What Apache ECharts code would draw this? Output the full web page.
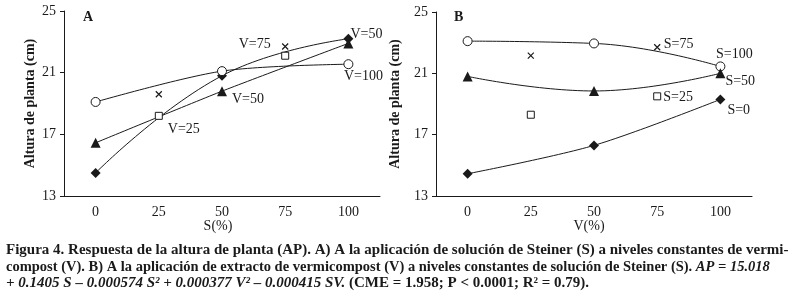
<!DOCTYPE html>
<html>
<head>
<meta charset="utf-8">
<script src="https://cdn.jsdelivr.net/npm/echarts@6/dist/echarts.min.js"></script>
<style>
  html, body { margin: 0; padding: 0; background: #fff; }
  #chart { width: 794px; height: 308px; }
</style>
</head>
<body>
<div id="chart"></div>
<script>
// niveles (%) en el eje x
const levels = ['0', '25', '50', '75', '100'];
const yTicks = [13, 17, 21, 25];

// A) Altura vs S a niveles constantes de V
const aDiamond = [14.5, null, 20.8, null, 23.2];
const aTriangle = [16.45, null, 19.8, null, 22.9];
const aCircle = [19.1, null, 21.1, null, 21.55];
const aSquare = [null, 18.2, null, 22.1, null];
const aCross = [null, 19.6, null, 22.7, null];

// B) Altura vs V a niveles constantes de S
const bCircle = [23.1, null, 22.95, null, 21.45];
const bTriangle = [20.8, null, 19.85, null, 21.0];
const bDiamond = [14.45, null, 16.3, null, 19.3];
const bSquare = [null, 18.3, null, 19.5, null];
const bCross = [null, 22.15, null, 22.7, null];

const serif = '"Liberation Serif", "DejaVu Serif", serif';
const ink = '#1a1a1a';
const crossPath = 'path://M0,0L10,10M10,0L0,10';

// pone una etiqueta solo en un punto
function withLabel(arr, idx, label) {
  return arr.map((v, i) => {
    if (i !== idx || v == null) return v;
    return { value: v, label: Object.assign({ show: true }, label) };
  });
}

function xAxis(gridIndex, name, pad) {
  return {
    type: 'category', gridIndex: gridIndex, data: levels, boundaryGap: true,
    name: name, nameLocation: 'middle', nameGap: 23, nameMoveOverlap: false,
    nameTextStyle: { fontFamily: serif, fontSize: 14, color: ink, padding: pad },
    axisLine: { lineStyle: { color: ink, width: 1 } },
    axisTick: { inside: true, length: 4, lineStyle: { color: ink } },
    axisLabel: { fontFamily: serif, fontSize: 14, color: ink, margin: 9 },
    splitLine: { show: false }
  };
}

function yAxis(gridIndex, gap) {
  return {
    type: 'value', gridIndex: gridIndex, min: 13, max: 25, interval: 4,
    name: 'Altura de planta (cm)', nameLocation: 'middle', nameGap: gap, nameMoveOverlap: false,
    nameTextStyle: { fontFamily: serif, fontSize: 14, fontWeight: 'bold', color: ink },
    axisLine: { show: true, lineStyle: { color: ink, width: 1 } },
    axisTick: { show: true, length: 4, lineStyle: { color: ink } },
    axisLabel: { fontFamily: serif, fontSize: 14, color: ink, margin: 8,
      formatter: v => yTicks.indexOf(v) >= 0 ? String(v) : '' },
    splitLine: { show: false }
  };
}

const lblBase = { fontFamily: serif, fontSize: 14, color: ink };

function lineSeries(ax, data, symbol, size, hollow, smooth) {
  return {
    type: 'line', xAxisIndex: ax, yAxisIndex: ax, data: data,
    symbol: symbol, symbolSize: size, showAllSymbol: true, connectNulls: true,
    smooth: smooth, animation: false,
    lineStyle: { color: ink, width: 1 },
    itemStyle: hollow ? { color: '#fff', borderColor: ink, borderWidth: 1 } : { color: ink },
    label: Object.assign({ show: false }, lblBase)
  };
}

function pointSeries(ax, data, symbol, size, cross) {
  return {
    type: 'line', xAxisIndex: ax, yAxisIndex: ax, data: data,
    symbol: symbol, symbolSize: size, showAllSymbol: true, connectNulls: false,
    animation: false,
    lineStyle: { width: 0, opacity: 0 },
    itemStyle: cross ? { color: 'none', borderColor: ink, borderWidth: 1.2 }
                     : { color: '#fff', borderColor: ink, borderWidth: 1 },
    label: Object.assign({ show: false }, lblBase)
  };
}

const chart = echarts.init(document.getElementById('chart'), null, { renderer: 'canvas' });

function capStyle(size) {
  return {
    style: { fontFamily: serif, fontSize: size, fontWeight: 'bold', fill: ink },
    rich: {
      i: { fontFamily: serif, fontSize: size, fontWeight: 'bold', fontStyle: 'italic', color: ink },
      n: { fontFamily: serif, fontSize: size, fontWeight: 'bold', color: ink }
    }
  };
}
function capLine(top, size, text) {
  const c = capStyle(size);
  return { type: 'text', left: 6, top: top,
    style: Object.assign({ text: text, rich: c.rich }, c.style) };
}

chart.setOption({
  backgroundColor: '#fff',
  grid: [
    { left: 64, top: 11, width: 316, height: 185 },
    { left: 436, top: 12, width: 316, height: 184 }
  ],
  xAxis: [xAxis(0, 'S(%)', [0, 8, 0, 0]), xAxis(1, 'V(%)', [0, 10, 0, 0])],
  yAxis: [yAxis(0, 27), yAxis(1, 34)],
  series: [
    lineSeries(0, withLabel(aDiamond, 4, { position: 'right', distance: 0, offset: [-3, -4], formatter: 'V=50' }),
      'diamond', 10, false, 0.45),
    lineSeries(0, withLabel(aTriangle, 2, { position: 'right', distance: 5, offset: [0, 8], formatter: 'V=50' }),
      'triangle', 10, false, 0.2),
    lineSeries(0, withLabel(aCircle, 4, { position: 'bottom', distance: 0, offset: [15, 0], formatter: 'V=100' }),
      'circle', 9, true, 0.3),
    pointSeries(0, withLabel(aSquare, 1, { position: 'right', distance: 5, offset: [0, 13], formatter: 'V=25' }),
      'rect', 7, false),
    pointSeries(0, withLabel(aCross, 3, { position: 'left', distance: 9, offset: [0, -2], formatter: 'V=75' }),
      crossPath, 6, true),

    lineSeries(1, withLabel(bCircle, 4, { position: 'top', distance: 0, offset: [14, 0], formatter: 'S=100' }),
      'circle', 9, true, 0.45),
    lineSeries(1, withLabel(bTriangle, 4, { position: 'right', distance: 0, offset: [0, 8], formatter: 'S=50' }),
      'triangle', 10, false, 0.45),
    lineSeries(1, withLabel(bDiamond, 4, { position: 'right', distance: 2, offset: [0, 11], formatter: 'S=0' }),
      'diamond', 10, false, 0.3),
    pointSeries(1, withLabel(bSquare, 3, { position: 'right', distance: 2, offset: [0, 1], formatter: 'S=25' }),
      'rect', 7, false),
    pointSeries(1, withLabel(bCross, 3, { position: 'right', distance: 1, offset: [0, -3], formatter: 'S=75' }),
      crossPath, 6, true)
  ],
  graphic: [
    { type: 'text', left: 83, top: 10, style: { text: 'A', fontFamily: serif, fontSize: 14, fontWeight: 'bold', fill: ink } },
    { type: 'text', left: 454, top: 10, style: { text: 'B', fontFamily: serif, fontSize: 14, fontWeight: 'bold', fill: ink } },
    capLine(243, 15,
      'Figura 4. Respuesta de la altura de planta (AP). A) A la aplicación de solución de Steiner (S) a niveles constantes de vermi-'),
    capLine(260, 14.5,
      '{n|compost (V). B) A la aplicación de extracto de vermicompost (V) a niveles constantes de solución de Steiner (S). }{i|AP = 15.018}'),
    capLine(276, 15,
      '{i|+ 0.1405 S – 0.000574 S² + 0.000377 V² – 0.000415 SV.}{n| (CME = 1.958; P < 0.0001; R² = 0.79).}')
  ]
});
</script>
</body>
</html>
